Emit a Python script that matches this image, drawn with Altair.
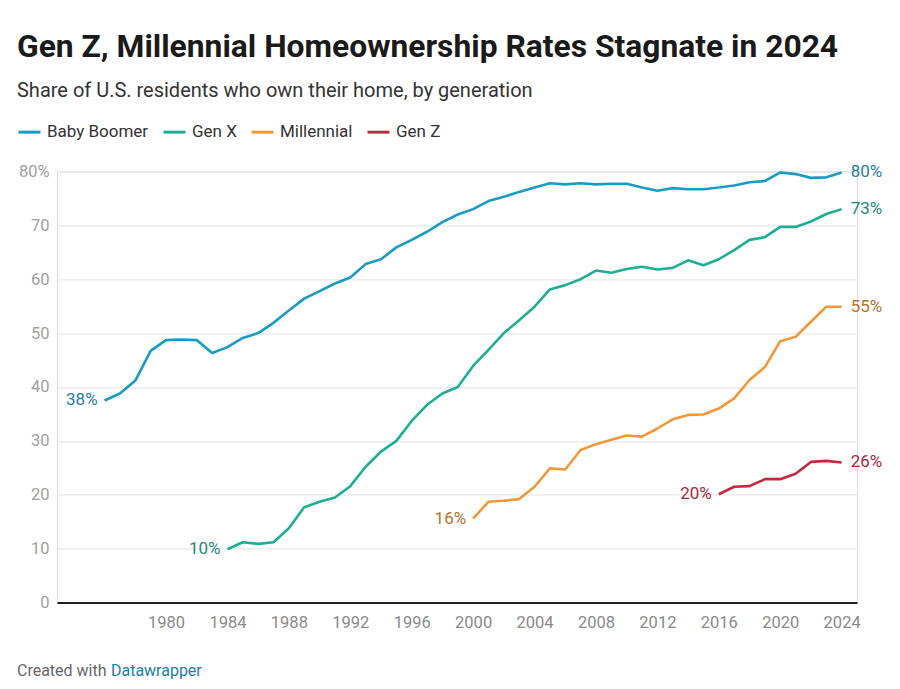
import altair as alt
import pandas as pd

series_names = ["Baby Boomer", "Gen X", "Millennial", "Gen Z"]

boomer_years = list(range(1976, 2025))
boomer = [37.5, 38.8, 41.2, 46.7, 48.7, 48.8, 48.7, 46.3, 47.4, 49.1,
          50.0, 51.9, 54.2, 56.4, 57.8, 59.2, 60.3, 62.8, 63.7, 65.9,
          67.3, 68.8, 70.6, 72.0, 73.0, 74.5, 75.3, 76.2, 77.0, 77.8,
          77.6, 77.8, 77.6, 77.7, 77.7, 77.0, 76.4, 76.9, 76.7, 76.7,
          77.0, 77.4, 78.0, 78.2, 79.8, 79.5, 78.8, 78.9, 79.8]

genx_years = list(range(1984, 2025))
genx = [9.9, 11.2, 10.9, 11.2, 13.8, 17.7, 18.7, 19.5, 21.6, 25.2,
        28.0, 30.0, 33.7, 36.7, 38.8, 40.0, 43.9, 46.9, 50.0, 52.4,
        54.9, 58.1, 58.9, 60.0, 61.6, 61.2, 61.9, 62.3, 61.8, 62.1,
        63.5, 62.6, 63.7, 65.4, 67.3, 67.8, 69.7, 69.7, 70.7, 72.1, 73.0]

millennial_years = list(range(2000, 2025))
millennial = [15.6, 18.7, 18.9, 19.2, 21.5, 24.9, 24.7, 28.3, 29.4, 30.2,
              31.0, 30.8, 32.3, 34.0, 34.8, 34.9, 36.0, 37.9, 41.3, 43.7,
              48.5, 49.3, 52.1, 54.9, 54.9]

genz_years = list(range(2016, 2025))
genz = [20.1, 21.5, 21.6, 22.9, 22.9, 23.9, 26.1, 26.3, 26.0]

x_ticks = list(range(1980, 2025, 4))
y_ticks = list(range(0, 81, 10))

line_colors = ["#1a9bc2", "#1eae96", "#f0983a", "#c2293c"]
label_colors = ["#24809e", "#1b8a78", "#b8722c", "#a8283c"]

rows = []
for name, yrs, vals in [("Baby Boomer", boomer_years, boomer),
                        ("Gen X", genx_years, genx),
                        ("Millennial", millennial_years, millennial),
                        ("Gen Z", genz_years, genz)]:
    for yr, v in zip(yrs, vals):
        rows.append({"series": name, "year": yr, "value": v})
df = pd.DataFrame(rows)

first = df.groupby("series", as_index=False).first()
last = df.groupby("series", as_index=False).last()
first["label"] = first["value"].round().astype(int).astype(str) + "%"
last["label"] = last["value"].round().astype(int).astype(str) + "%"

FONT = "Roboto"

x_enc = alt.X("year:Q",
              scale=alt.Scale(domain=[1972.9, 2025.0], nice=False, zero=False),
              axis=alt.Axis(values=x_ticks, format="d", title=None, grid=False,
                            ticks=False, domain=True, domainColor="#222",
                            domainWidth=2, labelFontSize=16.5, labelColor="#8a8a8a",
                            labelFont=FONT, labelPadding=12, labelBaseline="top"))
y_enc = alt.Y("value:Q",
              scale=alt.Scale(domain=[0, 80], nice=False),
              axis=alt.Axis(values=y_ticks, title=None, grid=True, gridColor="#e3e3e3",
                            gridWidth=1, ticks=False, domain=False,
                            labelExpr="datum.value == 80 ? '80%' : datum.label",
                            labelFontSize=16.5, labelColor="#a0a0a0", labelFont=FONT,
                            labelPadding=8))

lines = alt.Chart(df).mark_line(strokeWidth=2.6, strokeJoin="round").encode(
    x=x_enc, y=y_enc,
    color=alt.Color("series:N",
                    scale=alt.Scale(domain=series_names, range=line_colors),
                    legend=alt.Legend(title=None, orient="none", legendX=-40, legendY=-52,
                                      direction="horizontal", symbolType="stroke",
                                      symbolSize=484, symbolStrokeWidth=3,
                                      labelFontSize=17, labelFont=FONT, labelColor="#333",
                                      labelOffset=5, columnPadding=8, padding=0)),
    detail="series:N",
)

label_scale = alt.Scale(domain=series_names, range=label_colors)

left_labels = alt.Chart(first).mark_text(align="right", baseline="middle", dx=-7,
                                         fontSize=17, font=FONT).encode(
    x="year:Q", y="value:Q", text="label:N",
    color=alt.Color("series:N", scale=label_scale, legend=None))

right_labels = alt.Chart(last).mark_text(align="left", baseline="middle", dx=9,
                                         fontSize=17, font=FONT).encode(
    x="year:Q", y="value:Q", text="label:N",
    color=alt.Color("series:N", scale=label_scale, legend=None))

title = alt.Chart(pd.DataFrame({"t": ["Gen Z, Millennial Homeownership Rates Stagnate in 2024"]})).mark_text(
    align="left", baseline="alphabetic", fontSize=31.8, fontWeight="bold", font=FONT, color="#1a1a1a"
).encode(x=alt.value(-40), y=alt.value(-114.4), text="t:N")

subtitle = alt.Chart(pd.DataFrame({"t": ["Share of U.S. residents who own their home, by generation"]})).mark_text(
    align="left", baseline="alphabetic", fontSize=20, font=FONT, color="#333"
).encode(x=alt.value(-40), y=alt.value(-74.4), text="t:N")

footer1 = alt.Chart(pd.DataFrame({"t": ["Created with"]})).mark_text(
    align="left", baseline="alphabetic", fontSize=16, font=FONT, color="#666"
).encode(x=alt.value(-40), y=alt.value(504.6), text="t:N")

footer2 = alt.Chart(pd.DataFrame({"t": ["Datawrapper"]})).mark_text(
    align="left", baseline="alphabetic", fontSize=16, font=FONT, color="#1d81a2"
).encode(x=alt.value(54), y=alt.value(504.6), text="t:N")

chart = alt.layer(lines, left_labels, right_labels, title, subtitle, footer1, footer2).resolve_scale(
    color="independent"
).properties(
    width=800, height=431.2,
    autosize=alt.AutoSizeParams(type="none"),
    padding={"left": 49, "top": 163.4, "right": 35, "bottom": 78},
).configure_view(stroke=None).configure(background="white")

chart.save("out.html", embed_options={"renderer": "svg", "actions": False})
